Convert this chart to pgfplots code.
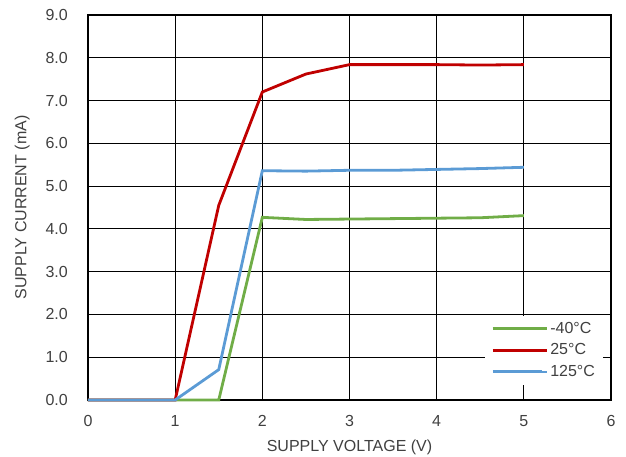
\documentclass[border=0pt]{standalone}
\usepackage{pgfplots}
\pgfplotsset{compat=1.18}
\usepackage{fontspec}
\setmainfont{Liberation Sans}
\definecolor{cgreen}{RGB}{112,173,71}
\definecolor{cred}{RGB}{192,0,0}
\definecolor{cblue}{RGB}{91,155,213}
\definecolor{ctext}{RGB}{64,64,64}
\begin{document}
\fontsize{16}{19}\selectfont
\begin{tikzpicture}
\path[use as bounding box] (0,0) rectangle (626pt,457pt);
\begin{axis}[
  at={(88pt,57pt)}, anchor=south west,
  scale only axis, width=523pt, height=385pt,
  xmin=0, xmax=6, ymin=0, ymax=9,
  xtick={0,1,2,3,4,5,6}, ytick={0,1,...,9},
  grid=major,
  major grid style={black, line width=0.9pt},
  axis line style={black, line width=1.5pt},
  tick style={draw=none},
  /pgf/number format/assume math mode=true,
  yticklabel={\pgfmathprintnumber[fixed, fixed zerofill, precision=1]{\tick}},
  xticklabel style={inner sep=0pt, yshift=-15pt},
  yticklabel style={inner sep=0pt, xshift=-20pt},
  ticklabel style={font=\fontsize{16}{19}\selectfont, text=ctext},
  label style={font=\fontsize{16}{19}\selectfont, text=ctext},
  xlabel={SUPPLY VOLTAGE (V)},
  ylabel={SUPPLY CURRENT (mA)},
  xlabel style={at={(axis description cs:0.5,0)}, anchor=north, yshift=-40pt, inner sep=0pt},
  ylabel style={at={(axis description cs:0,0.5)}, anchor=south, yshift=58pt, inner sep=0pt},
  clip=false,
  legend style={at={(rel axis cs:0.985,0.039)}, anchor=south east, draw=none, fill=white,
    font=\fontsize{16}{19}\selectfont, text=ctext, row sep=4pt, inner xsep=6pt, inner ysep=4pt,
    cells={anchor=west}},
  legend image code/.code={\draw[#1, line width=3pt] (0pt,0pt) -- (49pt,0pt); \path (0pt,0pt) -- (54pt,0pt);},
]
\addplot[cgreen, line width=2.8pt] coordinates {(0,0) (0.5,0) (1,0) (1.5,0) (2,4.27) (2.5,4.22) (3,4.23) (3.5,4.24) (4,4.25) (4.5,4.26) (5,4.31)};
\addlegendentry{-40°C}
\addplot[cred, line width=2.8pt] coordinates {(0,0) (0.5,0) (1,0) (1.5,4.55) (2,7.2) (2.5,7.62) (3,7.84) (3.5,7.84) (4,7.84) (4.5,7.83) (5,7.84)};
\addlegendentry{25°C}
\addplot[cblue, line width=2.8pt] coordinates {(0,0) (0.5,0) (1,0) (1.5,0.71) (2,5.36) (2.5,5.35) (3,5.37) (3.5,5.37) (4,5.39) (4.5,5.41) (5,5.44)};
\addlegendentry{125°C}
\end{axis}
\end{tikzpicture}
\end{document}
